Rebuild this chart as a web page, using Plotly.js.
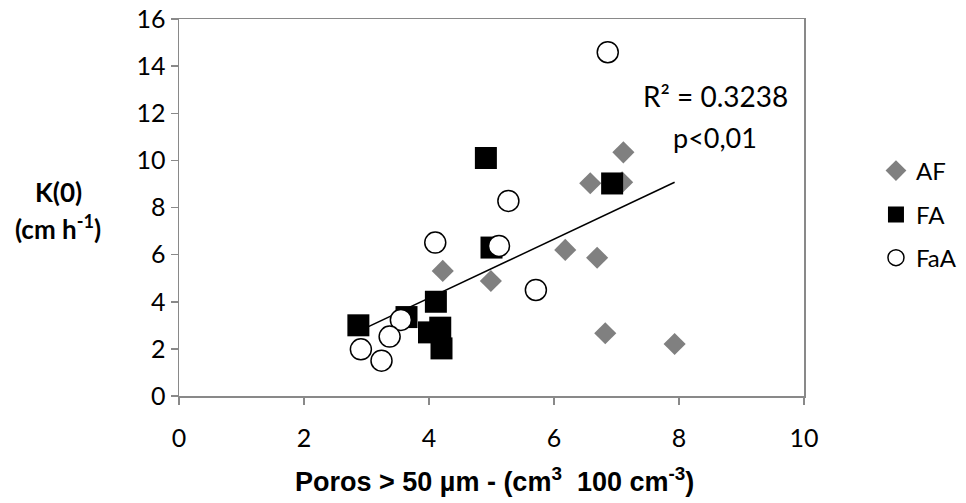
<!DOCTYPE html>
<html><head><meta charset="utf-8">
<script src="https://cdn.plot.ly/plotly-3.0.1.min.js"></script>
<style>body{margin:0;background:#fff}#c{width:966px;height:503px}</style>
</head><body><div id="c"></div>
<script>
const seriesNames = ["AF", "FA", "FaA"];
const afX = [7.11, 6.58, 7.09, 6.18, 6.69, 4.22, 4.99, 6.82, 7.93];
const afY = [10.34, 9.03, 9.07, 6.2, 5.87, 5.31, 4.88, 2.66, 2.21];
const faX = [2.87, 3.64, 4.0, 4.11, 4.18, 4.2, 4.91, 5.0, 6.93];
const faY = [3.0, 3.35, 2.7, 4.0, 2.9, 2.02, 10.1, 6.3, 9.02];
const faaX = [6.86, 5.27, 4.1, 5.12, 5.71, 3.55, 3.37, 2.91, 3.24];
const faaY = [14.59, 8.28, 6.51, 6.37, 4.5, 3.23, 2.52, 1.98, 1.5];
const trendX = [2.87, 7.93];
const trendY = [2.74, 9.07];
const xTicks = [0, 2, 4, 6, 8, 10];
const yTicks = [0, 2, 4, 6, 8, 10, 12, 14, 16];
const r2Text = "R² = 0.3238";
const pText = "p<0,01";
const xTitle = "<b>Poros > 50 µm - (cm<sup>3</sup>  100 cm<sup>-3</sup>)</b>";
const yTitle1 = "<b>K(0)</b>";
const yTitle2 = "<b>(cm h<sup>-1</sup>)</b>";

const font = "Lato, Carlito, sans-serif";
const traces = [
  {x: trendX, y: trendY, mode: "lines", line: {color: "#000", width: 1.5}, showlegend: false, hoverinfo: "skip"},
  {x: afX, y: afY, name: seriesNames[0], mode: "markers", type: "scatter", legend: "legend",
   marker: {symbol: "diamond", size: 17, color: "#808080", line: {width: 0}}},
  {x: faX, y: faY, name: seriesNames[1], mode: "markers", type: "scatter", legend: "legend2",
   marker: {symbol: "square", size: 22, color: "#000", line: {width: 0}}},
  {x: faaX, y: faaY, name: seriesNames[2], mode: "markers", type: "scatter", legend: "legend3",
   marker: {symbol: "circle", size: 21, color: "#fff", line: {width: 1.5, color: "#000"}}}
];
const axisCommon = {
  showgrid: false, zeroline: false, showline: true, linecolor: "#898989", linewidth: 1.5,
  mirror: true, ticks: "outside", ticklen: 7, tickcolor: "#898989", tickwidth: 1.5,
  tickfont: {family: font, size: 25, color: "#000"}, automargin: false
};
const legendCommon = {xref: "container", yref: "container", x: 0.9068, xanchor: "left", yanchor: "middle",
  font: {family: font, size: 24, color: "#000"}, itemwidth: 30, bgcolor: "rgba(0,0,0,0)"};
const layout = {
  width: 966, height: 503,
  margin: {l: 179, r: 162, t: 19, b: 107, autoexpand: false},
  paper_bgcolor: "#fff", plot_bgcolor: "#fff",
  xaxis: Object.assign({}, axisCommon, {range: [0, 10], tickvals: xTicks, ticklabelstandoff: 12}),
  yaxis: Object.assign({}, axisCommon, {range: [0, 16], tickvals: yTicks}),
  legend: Object.assign({}, legendCommon, {y: 0.66}),
  legend2: Object.assign({}, legendCommon, {y: 0.5726}),
  legend3: Object.assign({}, legendCommon, {y: 0.487}),
  annotations: [
    {text: yTitle1, xref: "paper", yref: "paper", x: -0.1936, y: 0.541,
     xanchor: "center", yanchor: "middle", showarrow: false, font: {family: font, size: 26, color: "#000"}},
    {text: yTitle2, xref: "paper", yref: "paper", x: -0.1936, y: 0.448,
     xanchor: "center", yanchor: "middle", showarrow: false, font: {family: font, size: 26, color: "#000"}},
    {text: xTitle, xref: "paper", yref: "paper", x: 0.5048, y: -0.222,
     xanchor: "center", yanchor: "middle", showarrow: false, font: {family: "Liberation Sans, Arial, sans-serif", size: 27, color: "#000"}},
    {text: r2Text, xref: "x", yref: "y", x: 8.58, y: 12.73, showarrow: false, font: {family: font, size: 28, color: "#000"}},
    {text: pText, xref: "x", yref: "y", x: 8.58, y: 10.95, showarrow: false, font: {family: font, size: 27, color: "#000"}}
  ],
  showlegend: true
};
Plotly.newPlot("c", traces, layout, {displayModeBar: false, staticPlot: true});
</script></body></html>
